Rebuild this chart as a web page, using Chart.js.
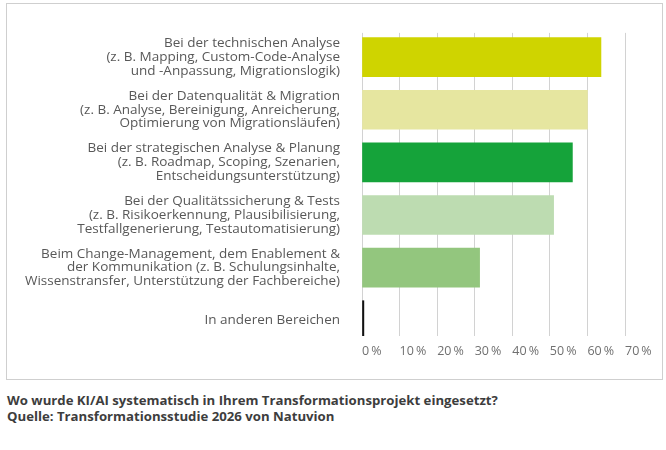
<!DOCTYPE html>
<html>
<head>
<meta charset="utf-8">
<script src="https://cdn.jsdelivr.net/npm/chart.js@4.4.1/dist/chart.umd.min.js"></script>
<style>
  body { margin: 0; background: #fff; width: 666px; height: 450px; overflow: hidden; font-family: "Open Sans", sans-serif; }
  #rahmen { position: absolute; left: 6px; top: 3px; width: 655px; height: 375px; border: 1px solid #cfcfcf; }
  #rahmen canvas { display: block; }
  #unterschrift { position: absolute; left: 7px; top: 392px; font-weight: bold; font-size: 13.2px; line-height: 16px; color: #3d3d3d; white-space: nowrap; }
</style>
</head>
<body>
<div id="rahmen"><canvas id="grafik" width="655" height="375"></canvas></div>
<div id="unterschrift">
  Wo wurde KI/AI systematisch in Ihrem Transformationsprojekt eingesetzt?<br>
  Quelle: Transformationsstudie 2026 von Natuvion
</div>
<script>
// Kategorien (mehrzeilig wie im Original)
const bereiche = [
  ["Bei der technischen Analyse", "(z. B. Mapping, Custom-Code-Analyse", "und -Anpassung, Migrationslogik)"],
  ["Bei der Datenqualität & Migration", "(z. B. Analyse, Bereinigung, Anreicherung,", "Optimierung von Migrationsläufen)"],
  ["Bei der strategischen Analyse & Planung", "(z. B. Roadmap, Scoping, Szenarien,", "Entscheidungsunterstützung)"],
  ["Bei der Qualitätssicherung & Tests", "(z. B. Risikoerkennung, Plausibilisierung,", "Testfallgenerierung, Testautomatisierung)"],
  ["Beim Change-Management, dem Enablement &", "der Kommunikation (z. B. Schulungsinhalte,", "Wissenstransfer, Unterstützung der Fachbereiche)"],
  ["In anderen Bereichen"]
];

// Anteil in %
const anteile = [63.6, 60, 56, 51, 31.3, 0.5];

const farben = ["#cfd400", "#e6e6a0", "#15a33a", "#bddcb1", "#93c67e", "#111111"];

// Achsenbeschriftung 0 % ... 70 %
const xTicks = [0, 10, 20, 30, 40, 50, 60, 70];

/* =======================================
   DIAGRAMM
======================================= */
const punkte = anteile.map((v, i) => ({ x: v, y: i }));

new Chart(document.getElementById("grafik"), {
  type: "bar",
  data: {
    datasets: [{
      data: punkte,
      backgroundColor: farben,
      borderWidth: 0,
      barThickness: 39
    }]
  },
  options: {
    indexAxis: "y",
    responsive: false,
    animation: false,
    layout: { padding: { left: 0, top: 24, right: 37, bottom: 13 } },
    plugins: {
      legend: { display: false },
      tooltip: { enabled: false }
    },
    scales: {
      x: {
        type: "linear",
        min: xTicks[0],
        max: xTicks[xTicks.length - 1],
        afterBuildTicks: (s) => { s.ticks = xTicks.map((v) => ({ value: v })); },
        afterFit: (s) => { s.height = 30; },
        border: { display: false },
        grid: { color: "#d2d2d2", lineWidth: 1, drawTicks: false },
        ticks: {
          align: "start",
          padding: 8,
          color: "#707070",
          font: { family: "'Open Sans'", size: 12.5 },
          callback: (v) => v + "\u2009%"
        }
      },
      y: {
        type: "linear",
        reverse: true,
        offset: false,
        bounds: "data",
        min: -0.46,
        max: 5.3,
        afterBuildTicks: (s) => { s.ticks = bereiche.map((b, i) => ({ value: i })); },
        afterFit: (s) => { s.width = 355; },
        border: { display: false },
        grid: { display: false, drawTicks: false, offset: false },
        ticks: {
          padding: 22,
          color: "#585858",
          font: { family: "'Open Sans'", size: 13.5, lineHeight: 1.02 },
          callback: (v) => bereiche[v]
        }
      }
    }
  }
});
</script>
</body>
</html>
